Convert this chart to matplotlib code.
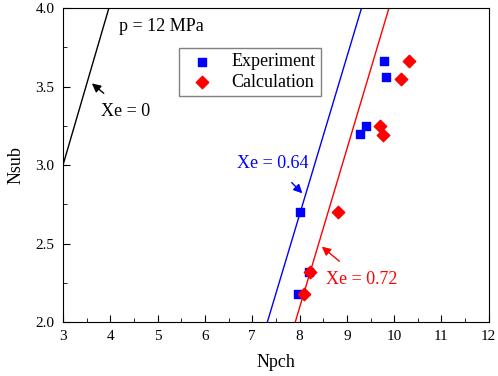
import matplotlib.pyplot as plt
from matplotlib.ticker import MultipleLocator

plt.rcParams['font.family'] = 'Liberation Serif'

# experiment (blue squares)
exp_x = [7.97, 8.01, 8.20, 9.27, 9.41, 9.79, 9.83]
exp_y = [2.18, 2.70, 2.32, 3.20, 3.25, 3.66, 3.56]
# calculation (red diamonds)
cal_x = [8.10, 8.22, 8.82, 9.70, 9.77, 10.15, 10.31]
cal_y = [2.18, 2.32, 2.70, 3.25, 3.19, 3.55, 3.66]

# iso-quality lines
xe0_x = [3.0, 3.97]
xe0_y = [3.0, 4.0]
xe64_x = [7.32, 9.31]
xe64_y = [2.0, 4.0]
xe72_x = [7.91, 9.89]
xe72_y = [2.0, 4.0]

fig = plt.figure(figsize=(4.98, 3.76), dpi=100)
ax = fig.add_axes([0.1265, 0.1436, 0.855, 0.835])

ax.plot(xe0_x, xe0_y, color='black', lw=1)
ax.plot(xe64_x, xe64_y, color='blue', lw=1)
ax.plot(xe72_x, xe72_y, color='red', lw=1)

ax.scatter(exp_x, exp_y, marker='s', s=32, color='blue', label='Experiment', zorder=3)
ax.scatter(cal_x, cal_y, marker='D', s=40, color='red', label='Calculation', zorder=4)

ax.set_xlim(3, 12)
ax.set_ylim(2, 4)
ax.xaxis.set_major_locator(MultipleLocator(1))
ax.xaxis.set_minor_locator(MultipleLocator(0.5))
ax.yaxis.set_major_locator(MultipleLocator(0.5))
ax.yaxis.set_minor_locator(MultipleLocator(0.25))
ax.yaxis.set_major_formatter(plt.FormatStrFormatter('%.1f'))
ax.tick_params(which='both', direction='in', labelsize=11, pad=6)
ax.tick_params(which='major', length=5)
ax.tick_params(which='minor', length=3)
ax.set_xlabel('Npch', fontsize=13, labelpad=8)
ax.set_ylabel('Nsub', fontsize=13, labelpad=8)

ax.text(4.18, 3.88, 'p = 12 MPa', fontsize=13, va='center')

ax.annotate('Xe = 0', xy=(3.61, 3.52), xytext=(4.33, 3.34), fontsize=13,
            ha='center', va='center',
            arrowprops=dict(arrowstyle='-|>', color='black', lw=1, shrinkA=8, shrinkB=0))
ax.annotate('Xe = 0.64', xy=(8.06, 2.82), xytext=(7.43, 3.01), fontsize=13,
            color='blue', ha='center', va='center',
            arrowprops=dict(arrowstyle='-|>', color='blue', lw=1, shrinkA=8, shrinkB=0))
ax.annotate('Xe = 0.72', xy=(8.47, 2.48), xytext=(9.31, 2.27), fontsize=13,
            color='red', ha='center', va='center',
            arrowprops=dict(arrowstyle='-|>', color='red', lw=1, shrinkA=8, shrinkB=0))

leg = ax.legend(loc='upper left', bbox_to_anchor=(0.272, 0.873), fontsize=13,
                fancybox=False, edgecolor='gray', framealpha=1, borderaxespad=0,
                handletextpad=0.6, borderpad=0.3, labelspacing=0.2)

fig.savefig('out.png', dpi=100)
